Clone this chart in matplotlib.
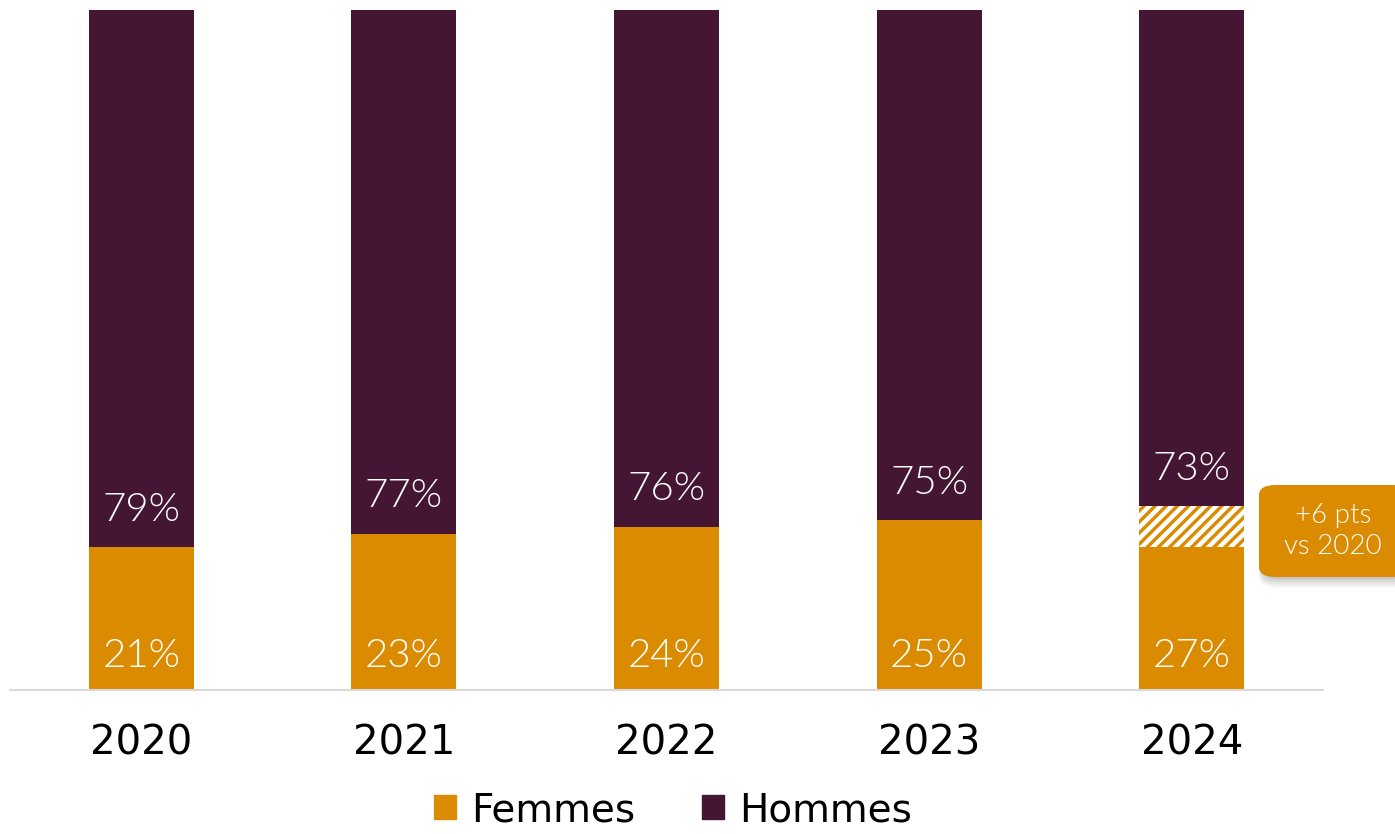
import matplotlib
matplotlib.use("Agg")
import matplotlib.pyplot as plt
from matplotlib.patches import FancyBboxPatch, Patch
from matplotlib import font_manager
import numpy as np

years = ["2020", "2021", "2022", "2023", "2024"]
femmes = [21, 23, 24, 25, 27]
hommes = [79, 77, 76, 75, 73]
note_lines = ["+6 pts", "vs 2020"]

ORANGE = "#DB8B00"
PURPLE = "#451634"

plt.rcParams['font.family'] = ['Lato', 'DejaVu Sans']
plt.rcParams['hatch.color'] = 'white'

# pick Lato Light if installed, else regular
lato_w = 'normal'
for f in font_manager.fontManager.ttflist:
    if f.name == 'Lato' and f.weight == 300 and f.style == 'normal':
        lato_w = 300
        break

W, H = 1395, 834
fig = plt.figure(figsize=(W / 100, H / 100), dpi=100)
ax = fig.add_axes([10 / W, (H - 690) / H, (1323 - 10) / W, 680 / H])

x = np.arange(len(years))
bw = 0.4
ax.bar(x, femmes, bw, color=ORANGE, label="Femmes", linewidth=0)
ax.bar(x, hommes, bw, bottom=femmes, color=PURPLE, label="Hommes", linewidth=0)

# hatched gain area on last bar
hb = ax.bar(x[-1], femmes[-1] - femmes[0], bw, bottom=femmes[0], facecolor=ORANGE,
            edgecolor='white', hatch='///', linewidth=0)
for p in hb:
    p.set_hatch_linewidth(3.2)

for xi, f, h in zip(x, femmes, hommes):
    ax.text(xi, 5.0, f"{f}%", ha='center', va='center', color='white',
            fontsize=29, fontweight=lato_w)
    ax.text(xi, f + 5.5, f"{h}%", ha='center', va='center', color='white',
            fontsize=29, fontweight=lato_w)

ax.set_xlim(-0.5, len(years) - 0.5)
ax.set_ylim(0, 100)
ax.set_xticks(x)
ax.set_xticklabels(years, fontsize=29, family=['DejaVu Sans'])
ax.tick_params(axis='x', length=0, pad=24)
ax.set_yticks([])
for s in ['top', 'right', 'left']:
    ax.spines[s].set_visible(False)
ax.spines['bottom'].set_color('#D9D9D9')
ax.spines['bottom'].set_linewidth(1.5)

# annotation box with soft shadow
bx0, by0, bw_px, bh_px = 1259, H - 577, 150, 92
for i, a in enumerate([0.05, 0.05, 0.06, 0.07]):
    off = 7 - i * 1.5
    grow = 3 - i
    sh = FancyBboxPatch(((bx0 + 3 - grow) / W, (by0 - off - grow) / H),
                        (bw_px + 2 * grow) / W, (bh_px + 2 * grow) / H,
                        boxstyle="round,pad=0,rounding_size=0.013",
                        transform=fig.transFigure, facecolor='#000000', alpha=a,
                        edgecolor='none', zorder=1)
    fig.patches.append(sh)
box = FancyBboxPatch((bx0 / W, by0 / H), bw_px / W, bh_px / H,
                     boxstyle="round,pad=0,rounding_size=0.012",
                     transform=fig.transFigure, facecolor=ORANGE, edgecolor='none', zorder=2)
fig.patches.append(box)
fig.text(1333 / W, (H - 516) / H, note_lines[0], ha='center', va='center',
         color='white', fontsize=20, fontweight=lato_w, zorder=3)
fig.text(1333 / W, (H - 547) / H, note_lines[1], ha='center', va='center',
         color='white', fontsize=20, fontweight=lato_w, zorder=3)

handles = [Patch(color=ORANGE, label="Femmes"), Patch(color=PURPLE, label="Hommes")]
fig.legend(handles=handles, loc='center', bbox_to_anchor=(673 / W, (H - 810) / H),
           ncol=2, frameon=False, prop={'family': 'DejaVu Sans', 'size': 28},
           handlelength=0.57, handleheight=0.57,
           handletextpad=0.4, columnspacing=1.7, borderpad=0)

fig.savefig("out.png", dpi=100)
